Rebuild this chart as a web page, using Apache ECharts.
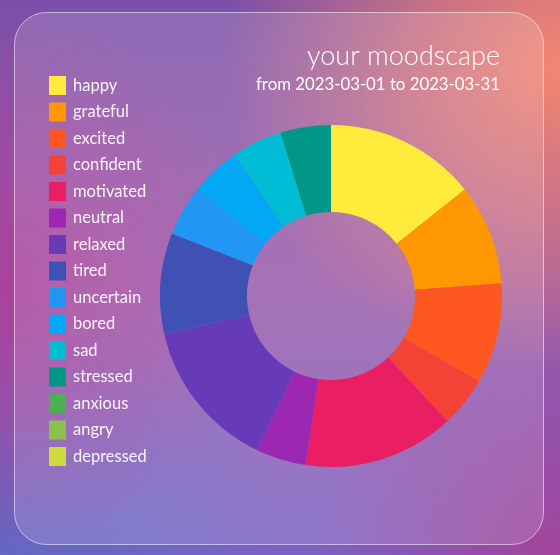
<!DOCTYPE html>
<html>
<head>
<meta charset="utf-8">
<script src="https://cdn.jsdelivr.net/npm/echarts@6/dist/echarts.min.js"></script>
<style>
html,body{margin:0;padding:0;width:560px;height:555px;overflow:hidden;}
body{
 background:
  radial-gradient(ellipse 60% 55% at 100% 12%, rgba(244,134,112,1) 0%, rgba(244,134,112,0.6) 45%, rgba(244,134,112,0) 100%),
  radial-gradient(ellipse 45% 50% at 0% 52%, rgba(170,66,156,1) 0%, rgba(170,66,156,0) 100%),
  radial-gradient(ellipse 45% 45% at 100% 100%, rgba(162,68,154,1) 0%, rgba(162,68,154,0) 100%),
  radial-gradient(ellipse 50% 45% at 0% 100%, rgba(96,104,198,1) 0%, rgba(96,104,198,0) 100%),
  linear-gradient(180deg, #7c50a8 0%, #9a5aa8 50%, #7a62c4 100%);
}
#c{width:560px;height:555px;}
</style>
</head>
<body>
<div id="c"></div>
<script>
const moods = ['happy','grateful','excited','confident','motivated','neutral','relaxed','tired','uncertain','bored','sad','stressed','anxious','angry','depressed'];
const counts = [3,2,2,1,3,1,3,2,1,1,1,1,0,0,0];
const colors = ['#FFEB3B','#FF9800','#FF5722','#F44336','#E91E63','#9C27B0','#673AB7','#3F51B5','#2196F3','#03A9F4','#00BCD4','#009688','#4CAF50','#8BC34A','#CDDC39'];
const titleText = 'your moodscape';
const subtitleText = 'from 2023-03-01 to 2023-03-31';

const chart = echarts.init(document.getElementById('c'), null, {renderer:'canvas'});
const font = 'Lato, "Open Sans", sans-serif';
chart.setOption({
  backgroundColor: 'transparent',
  color: colors,
  graphic: [{
    type: 'rect', z: -10, silent: true,
    shape: {x: 14.5, y: 12.5, width: 529, height: 532, r: 32},
    style: {fill: 'rgba(255,255,255,0.14)', stroke: 'rgba(255,255,255,0.55)', lineWidth: 1}
  }],
  title: [{
    text: titleText,
    right: 55, top: 38,
    textStyle: {color: '#ffffff', fontFamily: font, fontWeight: 300, fontSize: 27}
  }, {
    text: subtitleText,
    right: 55, top: 71,
    textStyle: {color: '#ffffff', fontFamily: font, fontWeight: 400, fontSize: 16.8}
  }],
  legend: {
    orient: 'vertical',
    left: 44, top: 71,
    itemWidth: 17, itemHeight: 19,
    itemGap: 7.5,
    icon: 'rect',
    data: moods,
    selectedMode: false,
    textStyle: {color: 'rgba(255,255,255,0.92)', fontFamily: font, fontSize: 16.5, padding: [0,0,0,2]}
  },
  series: [{
    type: 'pie',
    center: [331, 296],
    radius: [84, 171],
    startAngle: 90,
    clockwise: true,
    label: {show: false},
    labelLine: {show: false},
    silent: true,
    animation: false,
    data: moods.map((m, i) => ({name: m, value: counts[i]}))
  }]
});
</script>
</body>
</html>
